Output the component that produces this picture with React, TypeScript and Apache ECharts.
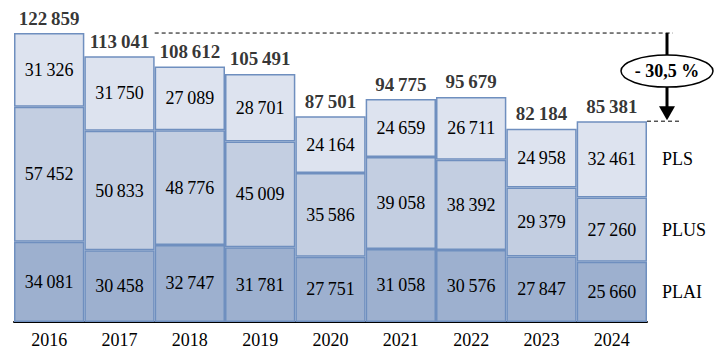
import React, { useEffect, useRef } from "react";
import * as echarts from "echarts";

const years = ["2016", "2017", "2018", "2019", "2020", "2021", "2022", "2023", "2024"];
const plai = [34081, 30458, 32747, 31781, 27751, 31058, 30576, 27847, 25660];
const plus = [57452, 50833, 48776, 45009, 35586, 39058, 38392, 29379, 27260];
const pls = [31326, 31750, 27089, 28701, 24164, 24659, 26711, 24958, 32461];
const totals = years.map((_, i) => plai[i] + plus[i] + pls[i]);
const changeText = "- 30,5 %";

const FONT = "'Liberation Serif', 'Times New Roman', serif";
const fmt = (v: number) => String(v).replace(/\B(?=(\d{3})+(?!\d))/g, "\u2009");

export default function App() {
  const ref = useRef<HTMLDivElement>(null);
  useEffect(() => {
    if (!ref.current) return;
    const chart = echarts.init(ref.current, null, { renderer: "svg" });
    const border = "#6f8fbf";
    const inLabel = {
      show: true,
      position: "inside" as const,
      color: "#000",
      fontFamily: FONT,
      fontSize: 18,
      formatter: (p: any) => fmt(p.value),
    };
    const mk = (name: string, data: number[], color: string) => ({
      name,
      type: "bar",
      stack: "t",
      data,
      barCategoryGap: "0%",
      itemStyle: { color, borderColor: border, borderWidth: 1.5 },
      label: inLabel,
      emphasis: { disabled: true },
    });
    chart.setOption({
      animation: false,
      grid: { left: 14, right: 75, top: 28, bottom: 41, containLabel: false },
      xAxis: {
        type: "category",
        data: years,
        axisLine: { lineStyle: { color: "#000", width: 2 } },
        axisTick: { show: false },
        axisLabel: { color: "#000", fontFamily: FONT, fontSize: 18, margin: 9 },
      },
      yAxis: { type: "value", min: 0, max: 125000, show: false, splitLine: { show: false } },
      series: [
        mk("PLAI", plai, "#9db0cf"),
        mk("PLUS", plus, "#c3cee1"),
        mk("PLS", pls, "#dde3ef"),
        {
          type: "scatter",
          data: totals,
          symbolSize: 1,
          itemStyle: { color: "rgba(0,0,0,0)" },
          label: {
            show: true,
            position: "top",
            distance: 5,
            color: "#000",
            fontFamily: FONT,
            fontSize: 19,
            fontWeight: "bold",
            formatter: (p: any) => fmt(p.value),
          },
          emphasis: { disabled: true },
          z: 10,
        },
      ],
    });

    const px = (i: number, v: number) =>
      chart.convertToPixel({ xAxisIndex: 0, yAxisIndex: 0 }, [i, v]) as number[];
    const n = years.length - 1;
    const bw = px(1, 0)[0] - px(0, 0)[0];
    const lastRight = px(n, 0)[0] + bw / 2;
    const yTop = px(0, totals[0])[1];
    const yLast = px(n, totals[n])[1];
    const arrowX = lastRight + 20;
    const startX = px(1, 0)[0] + bw / 2;
    const textX = lastRight + 15;
    const mid = (a: number, b: number) => (px(n, a)[1] + px(n, b)[1]) / 2;
    const labelStyle = (text: string, y: number) => ({
      type: "text",
      x: textX,
      y,
      style: {
        text,
        font: `18px ${FONT}`,
        fill: "#000",
        align: "left",
        verticalAlign: "middle",
        textAlign: "left",
        textVerticalAlign: "middle",
      },
    });
    const ecy = (yTop + yLast) / 2 - 6;
    chart.setOption({
      graphic: [
        {
          type: "line",
          shape: { x1: startX, y1: yTop, x2: arrowX + 6, y2: yTop },
          style: { stroke: "#000", lineWidth: 1, lineDash: [4, 3] },
        },
        {
          type: "line",
          shape: { x1: lastRight, y1: yLast, x2: arrowX + 13, y2: yLast },
          style: { stroke: "#000", lineWidth: 1, lineDash: [4, 3] },
        },
        {
          type: "line",
          shape: { x1: arrowX, y1: yTop, x2: arrowX, y2: yLast - 12 },
          style: { stroke: "#000", lineWidth: 3 },
        },
        {
          type: "polygon",
          shape: { points: [[arrowX - 8, yLast - 15], [arrowX + 8, yLast - 15], [arrowX, yLast - 1]] },
          style: { fill: "#000" },
        },
        {
          type: "ellipse",
          shape: { cx: arrowX, cy: ecy, rx: 46, ry: 16 },
          style: { fill: "#fff", stroke: "#000", lineWidth: 1.5 },
          z: 20,
        },
        {
          type: "text",
          x: arrowX,
          y: ecy,
          z: 21,
          style: {
            text: changeText,
            font: `bold 18px ${FONT}`,
            fill: "#000",
            align: "center",
            verticalAlign: "middle",
            textAlign: "center",
            textVerticalAlign: "middle",
          },
        },
        labelStyle("PLS", mid(plai[n] + plus[n], totals[n])),
        labelStyle("PLUS", mid(plai[n], plai[n] + plus[n])),
        labelStyle("PLAI", mid(0, plai[n])),
      ],
    });
    return () => chart.dispose();
  }, []);
  return (
    <div
      ref={ref}
      style={{ position: "absolute", left: 0, top: 0, width: 722, height: 363 }}
    />
  );
}
